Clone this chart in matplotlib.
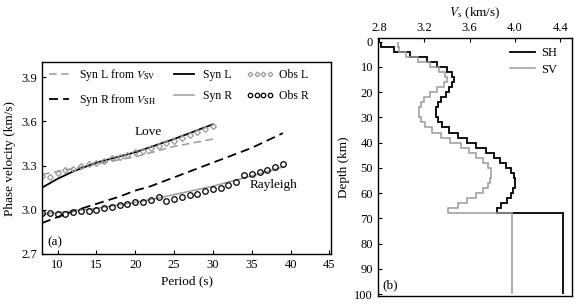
import numpy as np
import matplotlib
matplotlib.use("Agg")
import matplotlib.pyplot as plt

plt.rcParams['font.family'] = ['Liberation Serif', 'DejaVu Serif']
plt.rcParams['mathtext.fontset'] = 'stix'
plt.rcParams['font.size'] = 9
plt.rcParams['xtick.direction'] = 'in'
plt.rcParams['ytick.direction'] = 'in'

# ---- panel (a): dispersion curves ----
syn_l_vsv_p = [8, 10, 15, 20, 25, 30]
syn_l_vsv_v = [3.24, 3.26, 3.31, 3.36, 3.43, 3.48]

syn_l_p = [8, 10, 12, 15, 20, 25, 30]
syn_l_v = [3.15, 3.21, 3.26, 3.32, 3.39, 3.48, 3.58]

syn_r_vsh_p = [8, 10, 12, 15, 18, 20, 22, 25, 28, 30, 32, 35, 37, 39]
syn_r_vsh_v = [2.91, 2.95, 2.99, 3.04, 3.09, 3.13, 3.16, 3.22, 3.28, 3.32, 3.36, 3.42, 3.47, 3.52]

syn_r_p = [8, 15, 20, 23, 30, 35, 39]
syn_r_v = [2.97, 3.01, 3.05, 3.08, 3.16, 3.23, 3.29]

obs_l_p = list(range(8, 31))
obs_l_v = [3.23, 3.22, 3.25, 3.27, 3.28, 3.30, 3.31, 3.32, 3.33, 3.35, 3.36, 3.37,
           3.39, 3.40, 3.42, 3.43, 3.45, 3.47, 3.49, 3.51, 3.53, 3.55, 3.57]

obs_r_p = list(range(8, 40))
obs_r_v = [2.98, 2.975, 2.97, 2.97, 2.985, 2.99, 2.995, 3.0, 3.01, 3.02, 3.03, 3.04,
           3.05, 3.055, 3.065, 3.085, 3.06, 3.07, 3.085, 3.10, 3.11, 3.125, 3.14,
           3.15, 3.165, 3.19, 3.235, 3.245, 3.255, 3.27, 3.29, 3.31]

# ---- panel (b): Vs profiles (layer tops in km, last edge is bottom) ----
depth_edges = list(range(0, 68, 2)) + [68, 100]
vsh = [2.82, 2.93, 3.07, 3.22, 3.31, 3.40, 3.44, 3.46, 3.44, 3.42, 3.39, 3.35,
       3.32, 3.30, 3.30, 3.32, 3.36, 3.42, 3.50, 3.58, 3.66, 3.74, 3.81, 3.87,
       3.92, 3.96, 3.99, 4.00, 4.00, 3.98, 3.96, 3.93, 3.88, 3.84, 4.42]
vsv = [2.97, 2.98, 3.04, 3.14, 3.25, 3.33, 3.38, 3.40, 3.37, 3.31, 3.25, 3.20,
       3.17, 3.15, 3.15, 3.17, 3.21, 3.27, 3.35, 3.43, 3.52, 3.59, 3.66, 3.72,
       3.76, 3.79, 3.79, 3.78, 3.76, 3.72, 3.66, 3.58, 3.50, 3.41, 3.97]

GRAY = '#9a9a9a'

fig = plt.figure(figsize=(5.84, 3.06), dpi=100)
ax1 = fig.add_axes([0.0719, 0.170, 0.4949, 0.626])
ax2 = fig.add_axes([0.647, 0.034, 0.332, 0.8405])

l1, = ax1.plot(syn_l_vsv_p, syn_l_vsv_v, '--', color=GRAY, lw=1.1, dashes=(5, 2.8),
               label=r'Syn L from $V_{\rm SV}$')
l2, = ax1.plot(syn_r_vsh_p, syn_r_vsh_v, '--', color='black', lw=1.3, dashes=(5, 2.8),
               label=r'Syn R from $V_{\rm SH}$')
l3, = ax1.plot(syn_l_p, syn_l_v, '-', color='black', lw=1.3, label='Syn L')
l4, = ax1.plot(syn_r_p, syn_r_v, '-', color=GRAY, lw=1.1, label='Syn R')
l5, = ax1.plot(obs_l_p, obs_l_v, 'D', color=GRAY, mfc='none', ms=3.0, mew=0.9,
               label='Obs L')
l6, = ax1.plot(obs_r_p, obs_r_v, 'o', color='black', mfc='none', ms=4.0, mew=0.9,
               label='Obs R')

ax1.legend(handles=[l1, l2, l3, l4, l5, l6], ncol=3, loc='upper left',
           bbox_to_anchor=(0.012, 0.975), frameon=False, borderpad=0,
           borderaxespad=0, handlelength=2.3, handletextpad=0.5,
           columnspacing=1.2, labelspacing=0.75, numpoints=4, markerscale=0.8,
           fontsize=8.5)

ax1.text(21.7, 3.53, 'Love', ha='center', va='center', fontsize=9.5)
ax1.text(37.8, 3.17, 'Rayleigh', ha='center', va='center', fontsize=9.5)
ax1.text(9.7, 2.78, '(a)', ha='center', va='center', fontsize=9.5)

ax1.set_xlim(8, 45.2)
ax1.set_ylim(2.7, 4.0)
ax1.set_xticks([10, 15, 20, 25, 30, 35, 40, 45])
ax1.set_yticks([2.7, 3.0, 3.3, 3.6, 3.9])
ax1.set_yticklabels(['2.7', '3.0', '3.3', '3.6', '3.9'])
ax1.set_xlabel('Period (s)', fontsize=9.5, labelpad=3)
ax1.set_ylabel('Phase velocity (km/s)', fontsize=9.5, labelpad=4)
ax1.tick_params(length=3, width=0.8, labelsize=9)
for s in ax1.spines.values():
    s.set_linewidth(1.0)

ax2.stairs(vsh, depth_edges, orientation='horizontal', baseline=None,
           color='black', lw=1.3, label='SH')
ax2.stairs(vsv, depth_edges, orientation='horizontal', baseline=None,
           color=GRAY, lw=1.1, label='SV')
ax2.legend(loc='upper left', bbox_to_anchor=(0.68, 0.965), frameon=False,
           borderpad=0, borderaxespad=0, handlelength=2.0, handletextpad=0.5,
           labelspacing=0.35, fontsize=9)
ax2.text(2.9, 96.5, '(b)', ha='center', va='center', fontsize=9.5)

ax2.set_xlim(2.79, 4.5)
ax2.set_ylim(100.6, -1.3)
ax2.set_xticks([2.8, 3.2, 3.6, 4.0, 4.4])
ax2.set_yticks(range(0, 101, 10))
ax2.xaxis.set_label_position('top')
ax2.xaxis.tick_top()
ax2.set_xlabel(r'$V_{\rm s}$ (km/s)', fontsize=9.5, labelpad=4)
ax2.set_ylabel('Depth (km)', fontsize=9.5, labelpad=3)
ax2.tick_params(length=3, width=0.8, labelsize=9)
for s in ax2.spines.values():
    s.set_linewidth(1.0)

fig.savefig('out.png', dpi=100)
